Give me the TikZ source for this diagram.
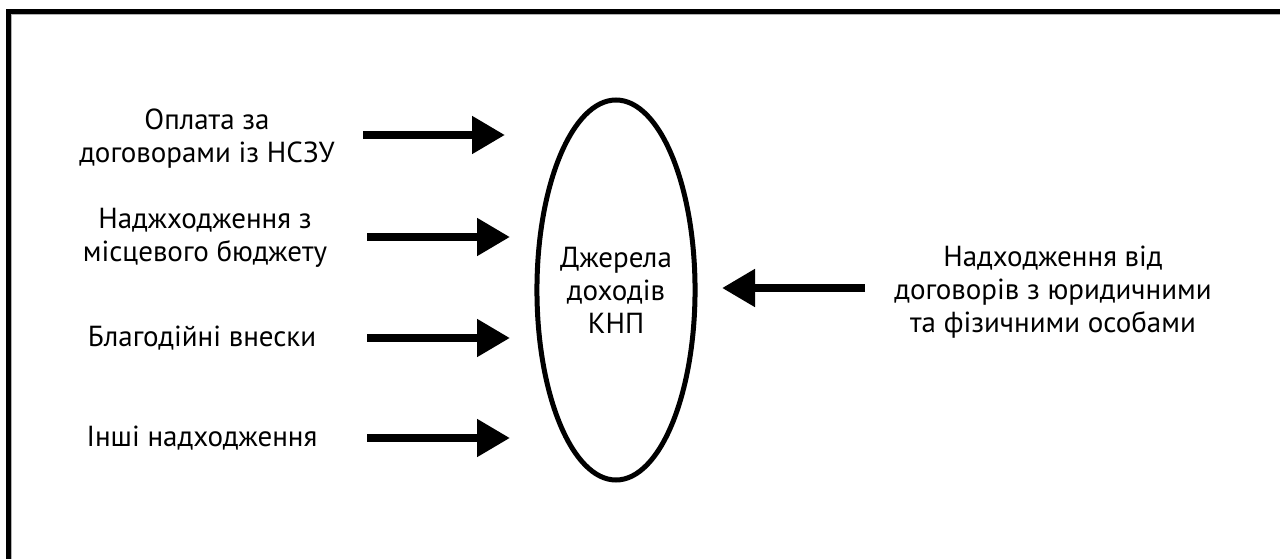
\documentclass[tikz,border=0pt]{standalone}
\usepackage{fontspec}
\setmainfont{PT Sans}
\usetikzlibrary{shapes.geometric,arrows.meta}

\begin{document}
\begin{tikzpicture}[x=1pt,y=-1pt]
        %
        % `source' is used for the labels round the oval.
        % `income' is used for the oval itself.
        % `flow' is used for the thick arrows.
        \tikzstyle{source} = [align=center,inner sep=0pt,font={\fontsize{29}{33}\selectfont}]
        \tikzstyle{income} = [draw,ellipse,line width=5pt,minimum width=158pt,minimum height=380pt,inner sep=0pt,font={\fontsize{29}{33}\selectfont},align=center]
        \tikzstyle{flow} = [line width=8pt,-{Triangle[length=33pt,width=36pt]}]
        \tikzstyle{frame} = [line width=5pt]
        %
        \useasboundingbox (0,0) rectangle (1280,559);
        \clip (0,0) rectangle (1280,559);
        %
        % Frame
        \draw[gray!60,line width=1pt] (11.5,559) -- (11.5,14.5) -- (1280,14.5);
        \draw[frame] (8.5,600) -- (8.5,11.5) -- (1300,11.5);
        %
        % Oval
        \node[income] (k np) at (616,290) {Джерела\\доходів\\КНП};
        %
        % Left column
        \node[source] (src1) at (207,139) {Оплата за\\договорами із НСЗУ};
        \node[source] (src2) at (205,238) {Наджходження з\\місцевого бюджету};
        \node[source] (src3) at (202,338) {Благодійні внески};
        \node[source] (src4) at (202,438) {Інші надходження};
        %
        % Right column
        \node[source] (src5) at (1053,292) {Надходження від\\договорів з юридичними\\та фізичними особами};
        %
        % Arrow ends
        \coordinate (a1) at (363,135);
        \coordinate (b1) at (505,135);
        \coordinate (a2) at (367,237);
        \coordinate (b2) at (510,237);
        \coordinate (a3) at (367,338);
        \coordinate (b3) at (510,338);
        \coordinate (a4) at (367,438);
        \coordinate (b4) at (510,438);
        \coordinate (a5) at (865,288);
        \coordinate (b5) at (722,288);
        %
        % Arrows
        \draw[flow] (a1) -- (b1);
        \draw[flow] (a2) -- (b2);
        \draw[flow] (a3) -- (b3);
        \draw[flow] (a4) -- (b4);
        \draw[flow] (a5) -- (b5);
        %
\end{tikzpicture}
\end{document}
